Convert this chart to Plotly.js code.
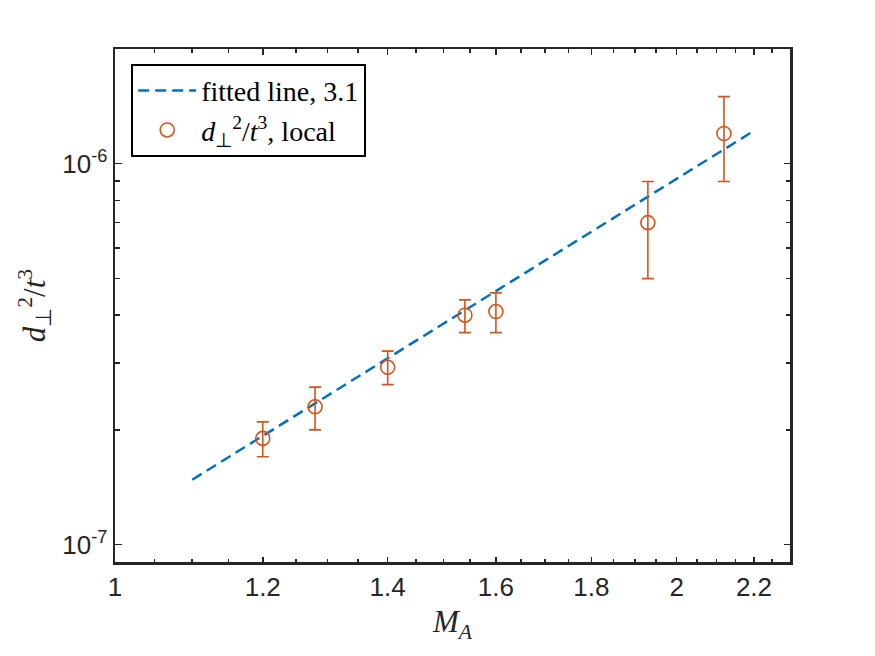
<!DOCTYPE html>
<html>
<head>
<meta charset="utf-8">
<script src="https://cdn.plot.ly/plotly-3.0.1.min.js"></script>
<style>
  body { margin: 0; background: #fff; }
  #chart { width: 875px; height: 656px; }
</style>
</head>
<body>
<div id="chart"></div>
<script>
// measured points, M_A vs d_perp^2 / t^3
let machA = [1.20, 1.28, 1.40, 1.54, 1.60, 1.93, 2.12];
let dRate = [1.90e-7, 2.30e-7, 2.92e-7, 4.00e-7, 4.09e-7, 7.00e-7, 1.20e-6];
let dUpper = [2.10e-7, 2.59e-7, 3.22e-7, 4.39e-7, 4.58e-7, 8.98e-7, 1.50e-6];
let dLower = [1.70e-7, 2.00e-7, 2.63e-7, 3.60e-7, 3.60e-7, 4.99e-7, 8.98e-7];

// fitted power law, slope 3.1 (end points)
let fitX = [1.1, 2.2];
let fitY = [1.48e-7, 1.22e-6];

let xTicks = [1, 1.2, 1.4, 1.6, 1.8, 2, 2.2];
let xTickText = ['1', '1.2', '1.4', '1.6', '1.8', '2', '2.2'];
let xMinor = [1.05, 1.1, 1.15, 1.25, 1.3, 1.35, 1.45, 1.5, 1.55, 1.65, 1.7, 1.75,
              1.85, 1.9, 1.95, 2.05, 2.1, 2.15, 2.25];
let yTicks = [1e-7, 1e-6];
let yTickText = ['10<sup>-7</sup>', '10<sup>-6</sup>'];
let yMinor = [2e-7, 3e-7, 4e-7, 5e-7, 6e-7, 7e-7, 8e-7, 9e-7];

let xRange = [0, Math.log10(2.3)];
let yRange = [Math.log10(9e-8), Math.log10(2e-6)];

let axisColor = '#262626';
let serif = 'Liberation Serif, Times New Roman, serif';
let sans = 'Liberation Sans, Arial, sans-serif';

var fitLine = {
    x: fitX,
    y: fitY,
    type: 'scatter',
    mode: 'lines',
    name: 'fitted line, 3.1',
    line: { color: '#0072BD', width: 2.5, dash: '11px,6px' }
};

var points = {
    x: machA,
    y: dRate,
    type: 'scatter',
    mode: 'markers',
    name: '<i>d</i><sub>⊥</sub><sup>2</sup>/<i>t</i><sup>3</sup>, local',
    marker: {
        symbol: 'circle-open',
        size: 14,
        color: '#D95319',
        line: { color: '#D95319', width: 1.6 }
    },
    error_y: {
        type: 'data',
        symmetric: false,
        array: dUpper.map((u, i) => u - dRate[i]),
        arrayminus: dLower.map((l, i) => dRate[i] - l),
        color: '#D95319',
        thickness: 1.6,
        width: 6
    }
};

// empty trace so the minor-tick axes get drawn
var minorHolder = {
    x: [], y: [],
    type: 'scatter', mode: 'markers',
    xaxis: 'x2', yaxis: 'y2',
    showlegend: false, hoverinfo: 'skip'
};

function minorAxis(type, range, vals, len, side) {
    return {
        type: type,
        range: range,
        overlaying: side == 'bottom' ? 'x' : 'y',
        side: side,
        tickmode: 'array',
        tickvals: vals,
        showticklabels: false,
        ticks: 'inside',
        ticklen: len,
        tickwidth: 1.5,
        tickcolor: axisColor,
        showline: true,
        linecolor: axisColor,
        linewidth: 2.5,
        mirror: 'ticks',
        showgrid: false,
        zeroline: false
    };
}

var layout = {
    width: 875,
    height: 656,
    paper_bgcolor: '#fff',
    plot_bgcolor: '#fff',
    margin: { l: 115, r: 85, t: 49, b: 94 },
    showlegend: true,
    legend: {
        x: 0.024, y: 0.971,
        xanchor: 'left', yanchor: 'top',
        bgcolor: '#fff',
        bordercolor: '#000',
        borderwidth: 2,
        font: { family: serif, size: 28, color: '#000' },
        itemwidth: 58,
        tracegroupgap: 0
    },
    xaxis: {
        type: 'log',
        range: xRange,
        tickmode: 'array',
        tickvals: xTicks,
        ticktext: xTickText,
        ticks: 'inside',
        ticklen: 5.5,
        tickwidth: 1.5,
        tickcolor: axisColor,
        showline: true,
        linecolor: axisColor,
        linewidth: 2.5,
        mirror: 'ticks',
        showgrid: false,
        zeroline: false,
        tickfont: { family: sans, size: 26, color: axisColor },
        title: {
            text: '<i>M</i><sub><i>A</i></sub>',
            font: { family: serif, size: 31, color: axisColor },
            standoff: 10
        }
    },
    yaxis: {
        type: 'log',
        range: yRange,
        tickmode: 'array',
        tickvals: yTicks,
        ticktext: yTickText,
        ticks: 'inside',
        ticklen: 6.5,
        tickwidth: 1.5,
        tickcolor: axisColor,
        showline: true,
        linecolor: axisColor,
        linewidth: 2.5,
        mirror: 'ticks',
        showgrid: false,
        zeroline: false,
        tickfont: { family: sans, size: 26, color: axisColor },
        title: {
            text: '<i>d</i><sub>⊥</sub><sup>2</sup>/<i>t</i><sup>3</sup>',
            font: { family: serif, size: 31, color: axisColor },
            standoff: 8
        }
    },
    xaxis2: minorAxis('log', xRange, xMinor, 3.5, 'bottom'),
    yaxis2: minorAxis('log', yRange, yMinor, 4.5, 'left')
};

Plotly.newPlot('chart', [minorHolder, fitLine, points], layout, { displayModeBar: false, staticPlot: true });
</script>
</body>
</html>
